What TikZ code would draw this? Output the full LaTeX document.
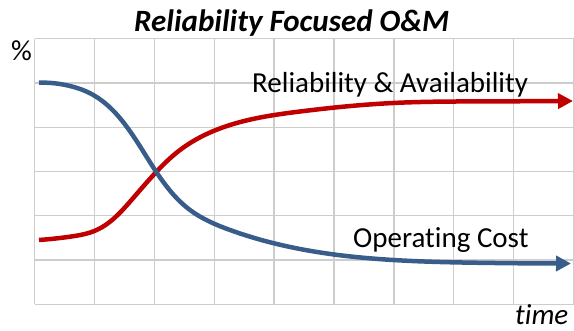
\documentclass[tikz,border=0pt]{standalone}
\usepackage{fontspec}
\setmainfont[Ligatures=NoCommon]{Carlito}
\usetikzlibrary{arrows.meta, hobby}
\definecolor{gridgray}{RGB}{205,205,205}
\definecolor{costblue}{RGB}{56,93,138}
\definecolor{relred}{RGB}{192,0,0}
\begin{document}
\begin{tikzpicture}[x=1pt, y=-1pt]
    \tikzset{Lbl/.style={anchor=base west, inner sep=0pt, font=\fontsize{29}{34}\selectfont}}
    \tikzset{Curve/.style={line width=4.5pt, -{Triangle[length=15pt, width=15pt]}}}
    \useasboundingbox (0,0) rectangle (574,331);

    % grid
    \foreach \i in {0,...,9}
        \draw[gridgray, line width=1.3pt] (34.5+59.9*\i, 38.7) -- (34.5+59.9*\i, 304.3);
    \foreach \j in {0,...,6}
        \draw[gridgray, line width=1.3pt] (34.5, 38.7+44.27*\j) -- (573.6, 38.7+44.27*\j);

    % nodes
    \node[Lbl, font=\fontsize{31}{36}\selectfont\bfseries\itshape] (title) at (134, 32) {Reliability Focused O\&M};
    \node[Lbl] (pct) at (11, 61) {\%};
    \node[Lbl, font=\fontsize{29}{34}\selectfont\itshape] (time) at (515, 325) {time};
    \node[Lbl] (rel) at (252, 93) {Reliability \& Availability};
    \node[Lbl] (cost) at (353, 248) {Operating Cost};

    % curves
    \coordinate (rs) at (39,240);
    \coordinate (re) at (573,101);
    \coordinate (cs) at (39,82.7);
    \coordinate (ce) at (571,263.5);
    \draw[Curve, relred] (rs) to[curve through={(70,236.7) (96.7,230) (130,201.7) (155,173.3) (180,150) (230,125) (300,111.5) (393,103) (480,101.4)}] (re);
    \draw[Curve, costblue] (cs) to[curve through={(70,86) (93.3,95) (126.7,126.7) (155,170) (190,210) (230,230) (300,249) (393,260) (480,262.8)}] (ce);
\end{tikzpicture}
\end{document}
